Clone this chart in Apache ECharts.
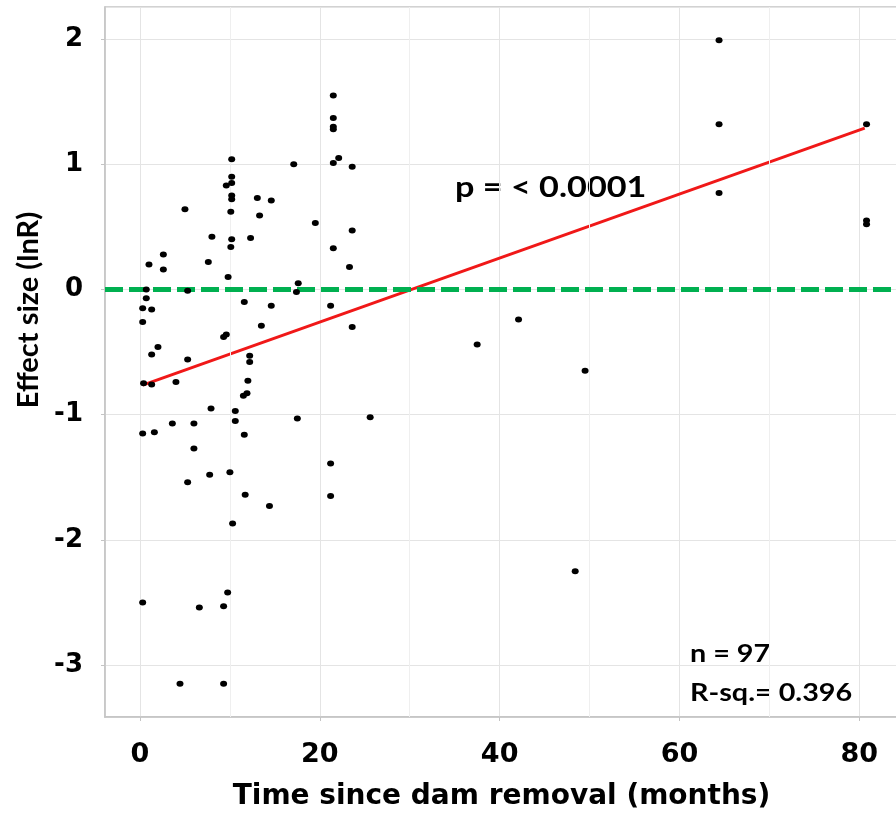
<!DOCTYPE html>
<html><head><meta charset="utf-8">
<script src="https://cdn.jsdelivr.net/npm/echarts@6/dist/echarts.min.js"></script>
<style>html,body{margin:0;padding:0;background:#fff}#c{width:896px;height:813px}</style>
</head><body><div id="c"></div>
<script>
// Time since dam removal (months)
const months = [21.5,21.5,21.5,21.5,22.1,21.5,23.6,10.2,10.2,9.6,10.2,10.2,10.2,17.1,5.0,13.05,14.6,10.1,13.3,19.5,
  8.0,10.2,12.3,10.1,23.6,21.5,2.6,1.0,2.6,7.6,9.8,23.3,17.6,17.4,0.7,5.3,0.7,0.3,1.3,0.3,
  11.6,14.6,21.2,13.5,23.6,9.6,9.3,2.0,1.3,5.3,12.2,12.2,37.5,0.4,1.3,4.0,12.0,11.5,11.9,7.9,
  10.6,10.6,3.6,6.0,0.3,1.6,11.6,17.5,25.6,6.0,21.2,7.75,10.0,5.3,11.7,21.2,14.4,10.3,9.75,0.3,
  6.6,9.3,4.45,9.3,64.4,64.4,64.4,80.8,80.8,80.8,42.1,49.5,48.4];
// Effect size (lnR)
const effects = [1.55,1.37,1.30,1.28,1.05,1.01,0.98,1.04,0.90,0.83,0.85,0.75,0.72,1.00,0.64,0.73,0.71,0.62,0.59,0.53,
  0.42,0.40,0.41,0.34,0.47,0.33,0.28,0.20,0.16,0.22,0.10,0.18,0.05,-0.02,0.00,-0.01,-0.07,-0.15,-0.16,-0.26,
  -0.10,-0.13,-0.13,-0.29,-0.30,-0.36,-0.38,-0.46,-0.52,-0.56,-0.53,-0.58,-0.44,-0.75,-0.76,-0.74,-0.73,-0.85,-0.83,-0.95,
  -0.97,-1.05,-1.07,-1.07,-1.15,-1.14,-1.16,-1.03,-1.02,-1.27,-1.39,-1.48,-1.46,-1.54,-1.64,-1.65,-1.73,-1.87,-2.42,-2.50,
  -2.54,-2.53,-3.15,-3.15,1.99,1.32,0.77,1.32,0.55,0.52,-0.24,-0.65,-2.25];
// regression line end points
const fitX = [0.3, 80.6];
const fitY = [-0.764, 1.289];
const referenceY = 0;
const minorGridX = [10, 30, 50, 70];
const xRange = [-3.89, 84.3];
const yRange = [-3.415, 2.256];
const pText = 'p = < 0.0001';
const nText = 'n = 97';
const rText = 'R-sq.= 0.396';

const chart = echarts.init(document.getElementById('c'), null, {renderer: 'canvas'});
const axisGray = '#c4c4c4';
const option = {
  animation: false,
  grid: {left: 105, right: -2, top: 7, bottom: 96, containLabel: false, outerBoundsMode: 'none',
    show: true, borderColor: axisGray, borderWidth: 1.5},
  xAxis: {
    type: 'value', min: xRange[0], max: xRange[1], splitNumber: 5,
    name: 'Time since dam removal (months)', nameLocation: 'middle', nameGap: 66,
    nameTextStyle: {fontFamily: 'DejaVu Sans', fontWeight: 'bold', fontSize: 28, color: '#000'},
    axisLine: {show: true, onZero: false, lineStyle: {color: axisGray, width: 1.5}},
    axisTick: {show: true, length: 4, lineStyle: {color: axisGray}},
    axisLabel: {showMinLabel: false, showMaxLabel: false, margin: 24, fontFamily: 'DejaVu Sans', fontWeight: 'bold', fontSize: 27, color: '#000'},
    splitLine: {show: true, lineStyle: {color: '#e4e4e4', width: 1}}
  },
  yAxis: {
    type: 'value', min: yRange[0], max: yRange[1], splitNumber: 5,
    name: 'Effect size (lnR)', nameLocation: 'middle', nameGap: 55,
    nameTextStyle: {fontFamily: 'Lato', fontWeight: 'bold', fontSize: 29, color: '#000', padding: [0, 0, 0, 104]},
    axisLine: {show: true, onZero: false, lineStyle: {color: axisGray, width: 1.5}},
    axisTick: {show: true, length: 4, lineStyle: {color: axisGray}},
    axisLabel: {showMinLabel: false, showMaxLabel: false, margin: 22, fontFamily: 'DejaVu Sans', fontWeight: 'bold', fontSize: 26, color: '#000'},
    splitLine: {show: true, lineStyle: {color: '#e4e4e4', width: 1}}
  },
  series: [
    {
      type: 'line', data: [], silent: true,
      markLine: {silent: true, symbol: 'none', label: {show: false},
        lineStyle: {color: '#efefef', width: 1, type: 'solid'},
        data: minorGridX.map(v => ({xAxis: v}))}
    },
    {
      type: 'line', data: [], silent: true, z: 3,
      markLine: {silent: true, symbol: 'none', label: {show: false},
        lineStyle: {color: '#00b050', width: 5, type: [18, 6]},
        data: [{yAxis: referenceY}]}
    },
    {
      type: 'line', z: 4, symbol: 'none', silent: true,
      data: fitX.map((x, i) => [x, fitY[i]]),
      lineStyle: {color: '#f01818', width: 3}
    },
    {
      type: 'scatter', z: 5, symbol: 'circle', symbolSize: [7, 6],
      itemStyle: {color: '#000', opacity: 1},
      data: months.map((m, i) => [m, effects[i]])
    }
  ],
  graphic: [
    {type: 'text', x: 455, y: 188, scaleX: 1.18, originX: 0, originY: 0,
      style: {text: pText, fontFamily: 'Lato', fontWeight: 'bold', fontSize: 29, fill: '#000', textVerticalAlign: 'middle'}},
    {type: 'text', x: 690, y: 654, scaleX: 1.15, originX: 0, originY: 0,
      style: {text: nText, fontFamily: 'Lato', fontWeight: 'bold', fontSize: 25, fill: '#000', textVerticalAlign: 'middle'}},
    {type: 'text', x: 690, y: 693, scaleX: 1.15, originX: 0, originY: 0,
      style: {text: rText, fontFamily: 'Lato', fontWeight: 'bold', fontSize: 25, fill: '#000', textVerticalAlign: 'middle'}}
  ]
};
chart.setOption(option);
</script>
</body></html>
